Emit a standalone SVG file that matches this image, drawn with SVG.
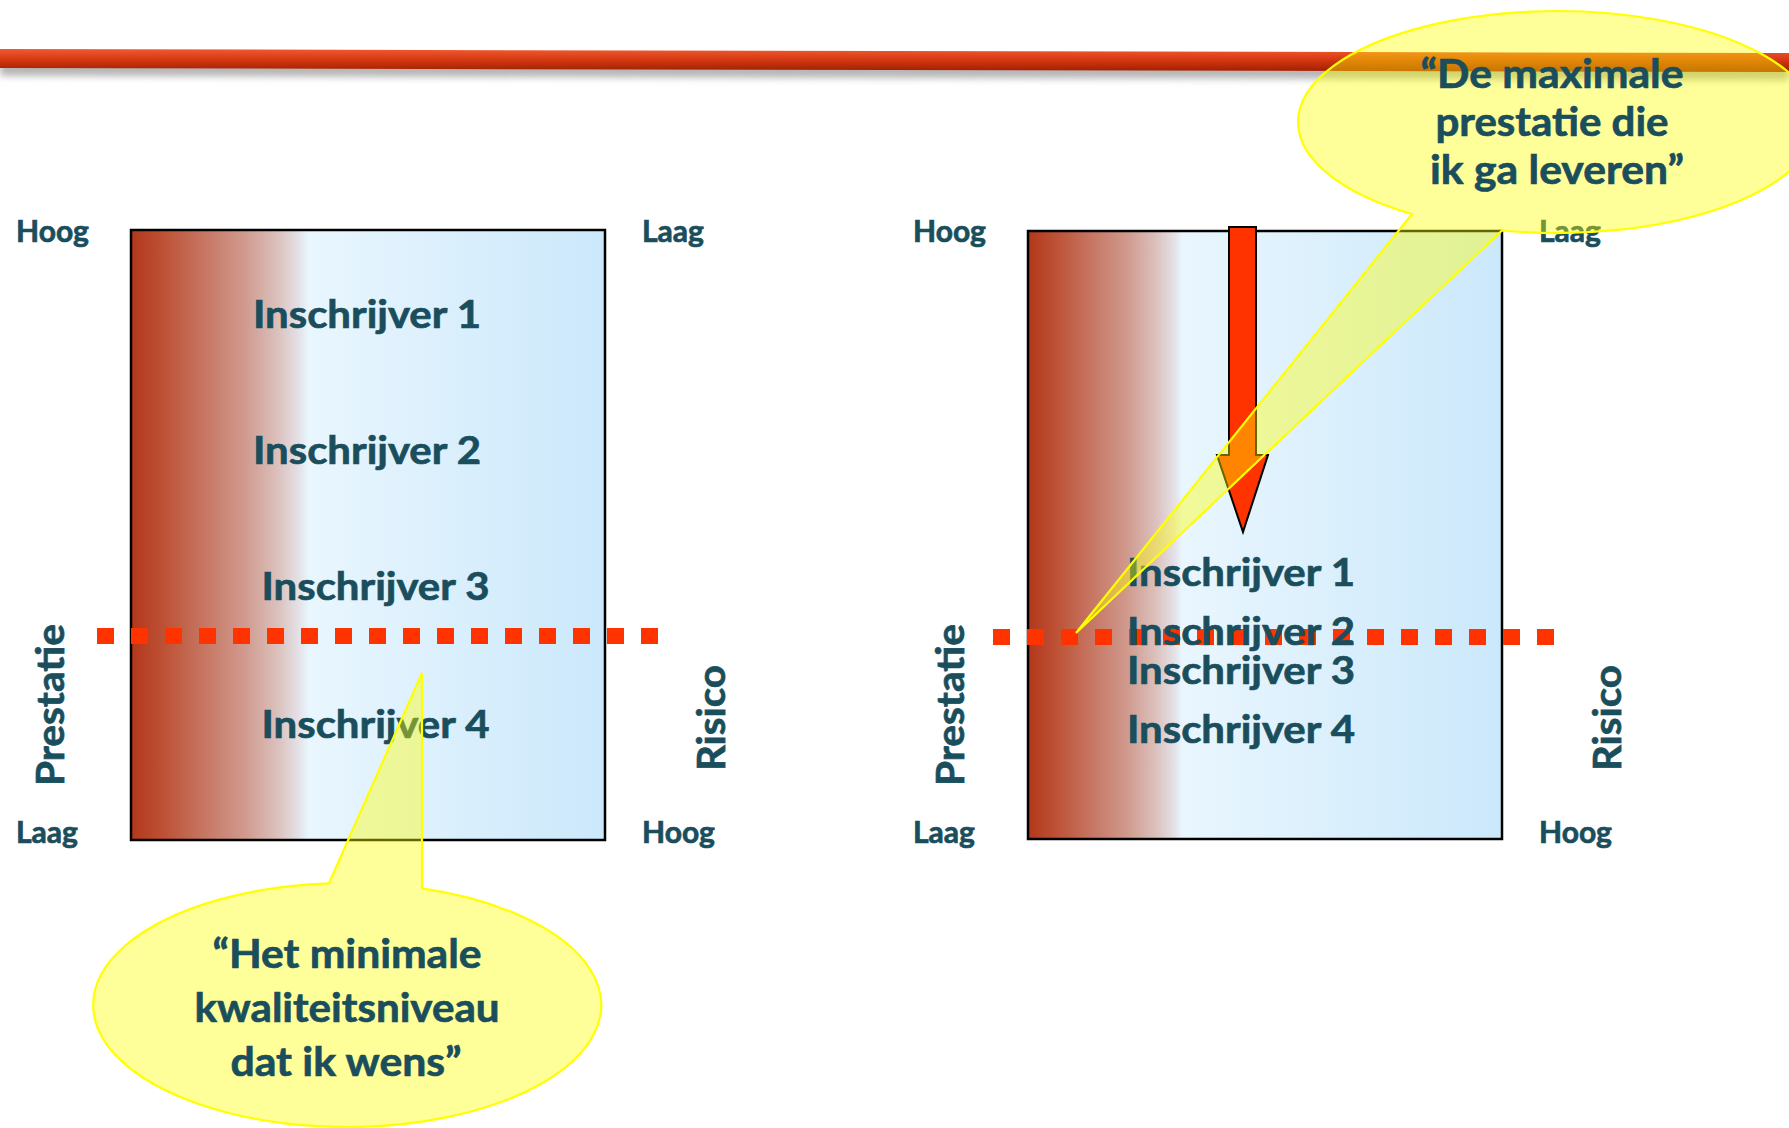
<svg xmlns="http://www.w3.org/2000/svg" width="1789" height="1128" viewBox="0 0 1789 1128">
  <defs>
    <linearGradient id="barFill" x1="0" y1="0" x2="0" y2="1">
      <stop offset="0" stop-color="#f05a30"/>
      <stop offset="0.45" stop-color="#d63a12"/>
      <stop offset="1" stop-color="#9e1c00"/>
    </linearGradient>
    <linearGradient id="boxFillA" x1="0" y1="0" x2="1" y2="0">
      <stop offset="0" stop-color="#b3371a"/>
      <stop offset="0.07" stop-color="#bd5236"/>
      <stop offset="0.15" stop-color="#c67460"/>
      <stop offset="0.24" stop-color="#d09a8e"/>
      <stop offset="0.31" stop-color="#dbc1bd"/>
      <stop offset="0.355" stop-color="#e4e2e8"/>
      <stop offset="0.375" stop-color="#e9f6fe"/>
      <stop offset="1" stop-color="#cbe8fb"/>
    </linearGradient>
    <linearGradient id="boxFillB" x1="0" y1="0" x2="1" y2="0">
      <stop offset="0" stop-color="#b3371a"/>
      <stop offset="0.06" stop-color="#bd5236"/>
      <stop offset="0.13" stop-color="#c67460"/>
      <stop offset="0.21" stop-color="#d09a8e"/>
      <stop offset="0.27" stop-color="#dbc1bd"/>
      <stop offset="0.31" stop-color="#e4e2e8"/>
      <stop offset="0.325" stop-color="#e9f6fe"/>
      <stop offset="1" stop-color="#cbe8fb"/>
    </linearGradient>
    <filter id="softShadow" x="-5%" y="-100%" width="110%" height="300%">
      <feGaussianBlur stdDeviation="3.5"/>
    </filter>
    <style>
      .lbl { font-family: Lato, "Open Sans", "Liberation Sans", sans-serif; font-weight: 700; fill: #1a4e5c; stroke: #1a4e5c; stroke-width: 0.7; }
      .axis { font-size: 30px; }
      .side { font-size: 39px; }
      .bidder { font-size: 39px; text-anchor: middle; }
      .quote { font-size: 41px; text-anchor: middle; }
      .box { stroke: #000; stroke-width: 2.5; }
      .cutoff { fill: none; stroke: #ff3300; stroke-width: 16; stroke-dasharray: 17 17; }
      .callout { fill: #ffff00; fill-opacity: 0.4; stroke: #ffff00; stroke-width: 2.2; stroke-linejoin: miter; }
    </style>
  </defs>

  <rect width="1789" height="1128" fill="#ffffff"/>

  <!-- header bar with soft shadow -->
  <g id="header-bar">
    <polygon points="0,57 1789,61 1789,80 0,76" fill="#7a7a7a" opacity="0.55" filter="url(#softShadow)"/>
    <polygon points="0,49 1789,53 1789,72 0,68" fill="url(#barFill)"/>
  </g>

  <!-- left chart -->
  <g id="chart-left">
    <rect class="box" x="131" y="230" width="474" height="610" fill="url(#boxFillA)"/>
  </g>
  <!-- right chart -->
  <g id="chart-right">
    <rect class="box" x="1028" y="231" width="474" height="608" fill="url(#boxFillB)"/>
  </g>

  <!-- threshold lines -->
  <g id="connectors">
    <line class="cutoff" x1="97" y1="636" x2="658" y2="636"/>
    <line class="cutoff" x1="993" y1="637" x2="1554" y2="637"/>
  </g>

  <!-- axis labels, left chart -->
  <g id="axes-left">
    <text class="lbl axis" x="16" y="242">Hoog</text>
    <text class="lbl axis" x="642" y="242">Laag</text>
    <text class="lbl axis" x="16" y="843">Laag</text>
    <text class="lbl axis" x="642" y="843">Hoog</text>
    <text class="lbl side" transform="translate(64,705) rotate(-90)" text-anchor="middle" textLength="162" lengthAdjust="spacingAndGlyphs">Prestatie</text>
    <text class="lbl side" transform="translate(725,718) rotate(-90)" text-anchor="middle" textLength="106" lengthAdjust="spacingAndGlyphs">Risico</text>
  </g>

  <!-- axis labels, right chart -->
  <g id="axes-right">
    <text class="lbl axis" x="913" y="242">Hoog</text>
    <text class="lbl axis" x="1539" y="242">Laag</text>
    <text class="lbl axis" x="913" y="843">Laag</text>
    <text class="lbl axis" x="1539" y="843">Hoog</text>
    <text class="lbl side" transform="translate(964,705) rotate(-90)" text-anchor="middle" textLength="162" lengthAdjust="spacingAndGlyphs">Prestatie</text>
    <text class="lbl side" transform="translate(1621,718) rotate(-90)" text-anchor="middle" textLength="106" lengthAdjust="spacingAndGlyphs">Risico</text>
  </g>

  <!-- bidders, left chart -->
  <g id="bidders-left">
    <text class="lbl bidder" x="367" y="328" textLength="228" lengthAdjust="spacingAndGlyphs">Inschrijver 1</text>
    <text class="lbl bidder" x="367" y="464" textLength="228" lengthAdjust="spacingAndGlyphs">Inschrijver 2</text>
    <text class="lbl bidder" x="375.5" y="600" textLength="228" lengthAdjust="spacingAndGlyphs">Inschrijver 3</text>
    <text class="lbl bidder" x="375.5" y="738" textLength="228" lengthAdjust="spacingAndGlyphs">Inschrijver 4</text>
  </g>

  <!-- bidders, right chart -->
  <g id="bidders-right">
    <text class="lbl bidder" x="1241" y="586" textLength="228" lengthAdjust="spacingAndGlyphs">Inschrijver 1</text>
    <text class="lbl bidder" x="1241" y="645" textLength="228" lengthAdjust="spacingAndGlyphs">Inschrijver 2</text>
    <text class="lbl bidder" x="1241" y="684" textLength="228" lengthAdjust="spacingAndGlyphs">Inschrijver 3</text>
    <text class="lbl bidder" x="1241" y="743" textLength="228" lengthAdjust="spacingAndGlyphs">Inschrijver 4</text>
  </g>

  <!-- downward arrow in right chart -->
  <g id="arrow-down">
    <polygon points="1229,227 1256,227 1256,455 1268,455 1243,532 1217,455 1229,455" fill="#ff3300" stroke="#000" stroke-width="2" stroke-linejoin="miter"/>
  </g>

  <!-- callout: minimum quality -->
  <g id="callout-min">
    <path class="callout" d="M 329 883.3 L 422 673 L 422 888.4 A 254 122 0 1 1 329 883.3 Z"/>
    <text class="lbl quote" x="347" y="968" textLength="269" lengthAdjust="spacingAndGlyphs">“Het minimale</text>
    <text class="lbl quote" x="347" y="1022" textLength="305" lengthAdjust="spacingAndGlyphs">kwaliteitsniveau</text>
    <text class="lbl quote" x="346" y="1076" textLength="231" lengthAdjust="spacingAndGlyphs">dat ik wens”</text>
  </g>

  <!-- callout: maximum performance -->
  <g id="callout-max">
    <path class="callout" d="M 1502 230.5 L 1076 633 L 1412 214 A 259 111 0 1 1 1502 230.5 Z"/>
    <text class="lbl quote" x="1552" y="88" textLength="263" lengthAdjust="spacingAndGlyphs">“De maximale</text>
    <text class="lbl quote" x="1552" y="136" textLength="233" lengthAdjust="spacingAndGlyphs">prestatie die</text>
    <text class="lbl quote" x="1557" y="184" textLength="254" lengthAdjust="spacingAndGlyphs">ik ga leveren”</text>
  </g>
</svg>
